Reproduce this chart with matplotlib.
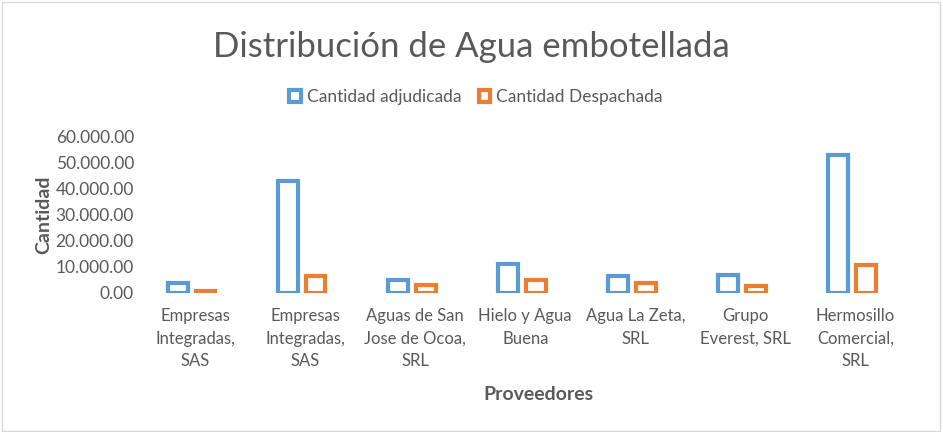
import matplotlib
matplotlib.use("Agg")
import matplotlib.pyplot as plt
import numpy as np
from matplotlib.patches import Rectangle

categories = ["Empresas\nIntegradas,\nSAS", "Empresas\nIntegradas,\nSAS", "Aguas de San\nJose de Ocoa,\nSRL",
              "Hielo y Agua\nBuena", "Agua La Zeta,\nSRL", "Grupo\nEverest, SRL", "Hermosillo\nComercial,\nSRL"]
adjudicada = [3700, 43000, 4800, 11000, 6400, 6900, 52700]
despachada = [900, 6400, 2900, 4800, 3800, 2600, 10700]
series_names = ["Cantidad adjudicada", "Cantidad Despachada"]
yticks = [0, 10000, 20000, 30000, 40000, 50000, 60000]

BLUE = "#5B9BD5"
ORANGE = "#ED7D31"
GRAY = "#595959"
FONT = "Lato"

fig = plt.figure(figsize=(9.43, 4.32), dpi=100)
fig.patches.append(Rectangle((0.002, 0.003), 0.995, 0.993, transform=fig.transFigure,
                             fill=False, edgecolor="#D9D9D9", linewidth=1))
ax = fig.add_axes([0.145, 0.322, 0.817, 0.363])
x = np.arange(len(categories))
w = 0.18
off = 0.125
ax.bar(x - off, adjudicada, w, facecolor="white", edgecolor=BLUE, linewidth=3, label=series_names[0])
ax.bar(x + off, despachada, w, facecolor="white", edgecolor=ORANGE, linewidth=3, label=series_names[1])
ax.set_xlim(-0.5, len(categories) - 0.5)
ax.set_ylim(0, 60000)
ax.set_yticks(yticks)
ax.set_yticklabels([f"{v:,.0f}".replace(",", ".") + ".00" for v in yticks], fontsize=12.5, color=GRAY, family=FONT)
ax.set_xticks(x + 0.03)
ax.set_xticklabels(categories, fontsize=12, color=GRAY, family=FONT, linespacing=1.5)
ax.tick_params(axis="y", length=0, pad=2)
ax.tick_params(axis="x", length=0, pad=11)
for s in ax.spines.values():
    s.set_visible(False)

fig.text(0.5, 1 - 47/432, "Distribución de Agua embotellada", ha="center", va="center", fontsize=25, color=GRAY, family=FONT)
fig.text(538/943, 1 - 395/432, "Proveedores", ha="center", va="center", fontsize=14, color=GRAY, family=FONT, fontweight="bold")
fig.text(44/943, 1 - 215/432, "Cantidad", ha="center", va="center", rotation=90, fontsize=14, color=GRAY, family=FONT, fontweight="bold")

leg = fig.legend(loc="center", bbox_to_anchor=(476/943, 1 - 97/432), ncol=2, frameon=False,
                 prop={"family": FONT, "size": 12.5}, handlelength=0.65, handleheight=0.65,
                 handletextpad=0.35, columnspacing=1.0)
for t in leg.get_texts():
    t.set_color(GRAY)
for h in leg.legend_handles:
    h.set_linewidth(3)

fig.savefig("out.png", dpi=100)
